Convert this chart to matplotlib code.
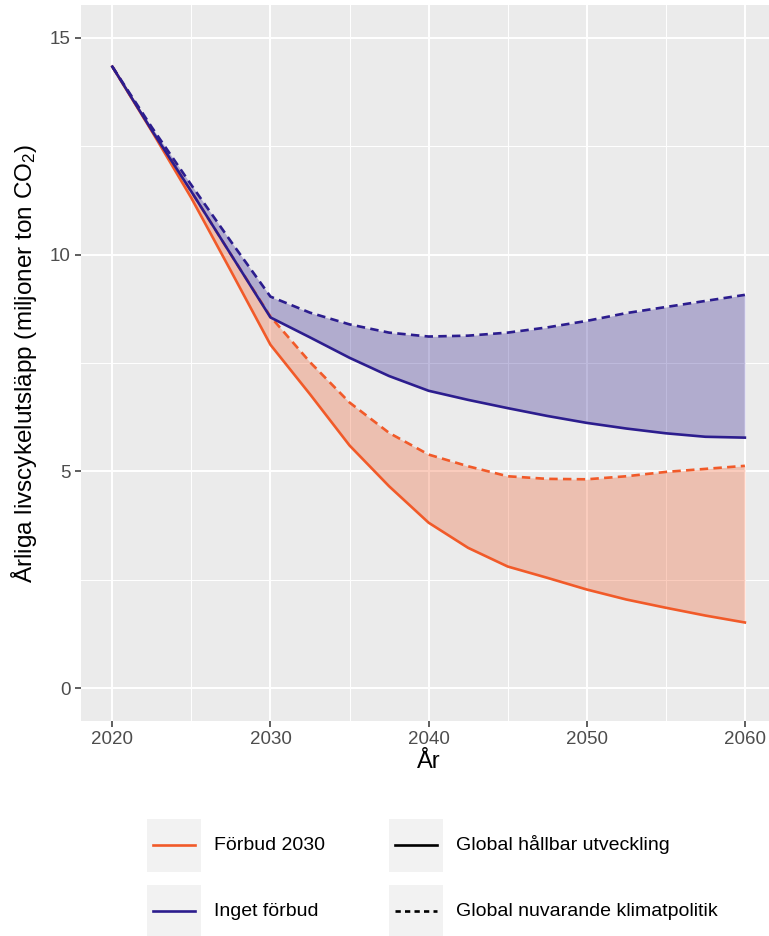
import matplotlib
matplotlib.use("Agg")
import matplotlib.pyplot as plt
from matplotlib.patches import Rectangle
from matplotlib.lines import Line2D

plt.rcParams['font.family'] = ['Liberation Sans', 'DejaVu Sans']
plt.rcParams['mathtext.fontset'] = 'custom'
plt.rcParams['mathtext.rm'] = 'Liberation Sans'
plt.rcParams['mathtext.it'] = 'Liberation Sans:italic'
plt.rcParams['mathtext.default'] = 'regular'

# Annual life-cycle emissions (million tonnes CO2)
years = [2020, 2022.5, 2025, 2027.5, 2030, 2032.5, 2035, 2037.5, 2040,
         2042.5, 2045, 2047.5, 2050, 2052.5, 2055, 2057.5, 2060]
inget_hallbar = [14.33, 12.86, 11.45, 10.00, 8.55, 8.09, 7.62, 7.20, 6.86,
                 6.65, 6.46, 6.28, 6.12, 5.99, 5.88, 5.80, 5.78]
inget_nuvarande = [14.33, 12.93, 11.60, 10.30, 9.03, 8.66, 8.39, 8.20, 8.11,
                   8.13, 8.20, 8.32, 8.47, 8.65, 8.79, 8.93, 9.07]
forbud_hallbar = [14.33, 12.84, 11.30, 9.62, 7.92, 6.78, 5.60, 4.66, 3.82,
                  3.24, 2.81, 2.55, 2.28, 2.05, 1.86, 1.68, 1.52]
forbud_nuvarande = [14.33, 12.86, 11.45, 10.00, 8.57, 7.52, 6.59, 5.89, 5.39,
                    5.12, 4.89, 4.83, 4.82, 4.89, 4.99, 5.06, 5.13]

x_ticks = [2020, 2030, 2040, 2050, 2060]
y_ticks = [0, 5, 10, 15]

policy_labels = ["Förbud 2030", "Inget förbud"]
scenario_labels = ["Global hållbar utveckling", "Global nuvarande klimatpolitik"]

ORANGE = "#F15A29"
BLUE = "#2C1D8E"
PANEL = "#EBEBEB"

W, H = 769, 936
fig = plt.figure(figsize=(W / 100, H / 100), dpi=100)

# axes box in pixel space
left_px, right_px = 80.7, 776.5
top_px, bottom_px = 5.0, 721.0
ax = fig.add_axes([left_px / W, 1 - bottom_px / H,
                   (right_px - left_px) / W, (bottom_px - top_px) / H])
ax.set_facecolor(PANEL)
for s in ax.spines.values():
    s.set_visible(False)

ax.set_xlim(2018, 2062)
ax.set_ylim(-0.75, 15.75)
ax.set_xticks(x_ticks)
ax.set_yticks(y_ticks)
ax.set_xticks([2025, 2035, 2045, 2055], minor=True)
ax.set_yticks([2.5, 7.5, 12.5], minor=True)
ax.grid(which='major', color='white', linewidth=1.4)
ax.grid(which='minor', color='white', linewidth=0.7)
ax.set_axisbelow(True)
ax.tick_params(which='major', length=4, width=1.1, color='#333333',
               labelsize=13.5, labelcolor='#4D4D4D', pad=3)
ax.tick_params(which='minor', length=0)

# ribbons between the two global scenarios
ax.fill_between(years, forbud_hallbar, forbud_nuvarande, color=ORANGE,
                alpha=0.3, linewidth=0)
ax.fill_between(years, inget_hallbar, inget_nuvarande, color=BLUE,
                alpha=0.3, linewidth=0)

lw = 1.9
dash = (0, (3.2, 2.0))
ax.plot(years, forbud_nuvarande, color=ORANGE, lw=lw, linestyle=dash)
ax.plot(years, forbud_hallbar, color=ORANGE, lw=lw)
ax.plot(years, inget_nuvarande, color=BLUE, lw=lw, linestyle=dash)
ax.plot(years, inget_hallbar, color=BLUE, lw=lw)

ax.set_xlabel("År", fontsize=17, color='black', labelpad=2)
ax.set_ylabel("Årliga livscykelutsläpp (miljoner ton CO$_2$)", fontsize=17.5,
              color='black', labelpad=8)

# legend drawn in figure pixel coordinates
def fx(px):
    return px / W

def fy(py):
    return 1 - py / H

key_w, key_h = 54, 53
rows = [818.5, 884.5]
cols = [147.3, 389.3]
entries = [
    (cols[0], rows[0], ORANGE, '-', policy_labels[0]),
    (cols[0], rows[1], BLUE, '-', policy_labels[1]),
    (cols[1], rows[0], 'black', '-', scenario_labels[0]),
    (cols[1], rows[1], 'black', (0, (2.0, 1.6)), scenario_labels[1]),
]
for kx, ky, c, ls, lab in entries:
    fig.patches.append(Rectangle((fx(kx), fy(ky + key_h)), key_w / W, key_h / H,
                                 transform=fig.transFigure, facecolor='#F2F2F2',
                                 edgecolor='none'))
    cy = ky + key_h / 2
    fig.lines.append(Line2D([fx(kx + 6), fx(kx + 48)], [fy(cy), fy(cy)],
                            transform=fig.transFigure, color=c, lw=lw,
                            linestyle=ls))
    fig.text(fx(kx + key_w + 13), fy(cy), lab, fontsize=14, color='black',
             va='center', ha='left')

fig.savefig("out.png", dpi=100)
